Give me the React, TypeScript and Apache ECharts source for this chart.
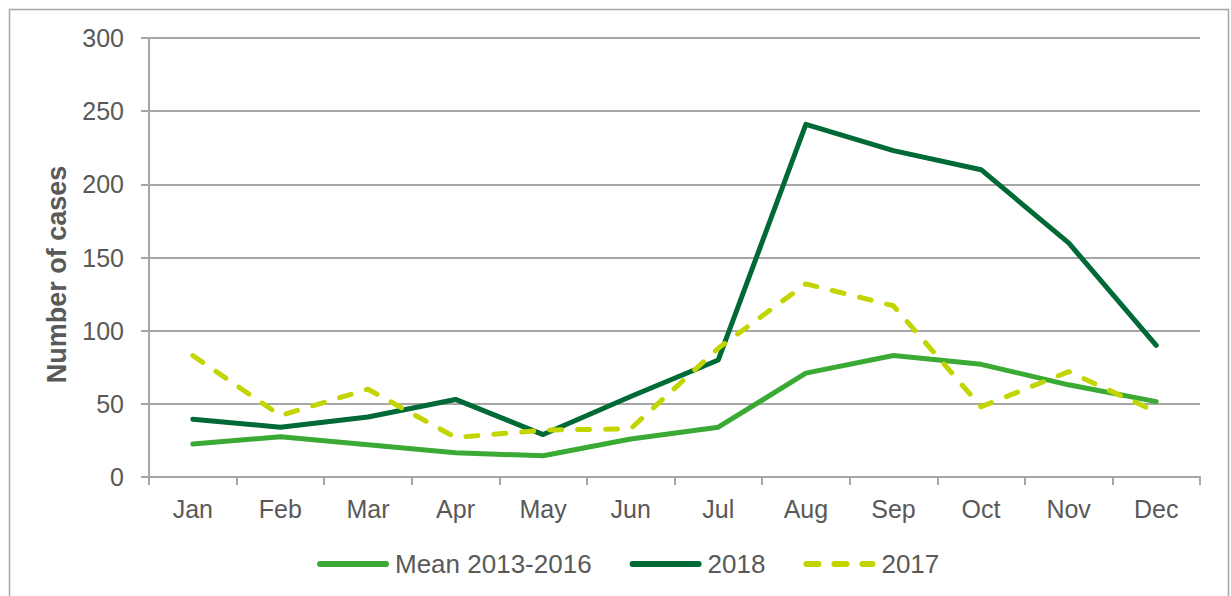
import React, { useEffect, useRef } from "react";
import * as echarts from "echarts";

const months = ["Jan", "Feb", "Mar", "Apr", "May", "Jun", "Jul", "Aug", "Sep", "Oct", "Nov", "Dec"];
const mean20132016 = [22.5, 27.5, 22, 16.5, 14.5, 26, 34, 71, 83, 77, 63, 51.5];
const y2018 = [39.5, 34, 41, 53, 29, 55, 80, 241, 223, 210, 160, 90];
const y2017 = [83, 42, 60, 27, 32, 33, 88, 132, 117, 48, 72, 44.5];
const yTicks = { min: 0, max: 300, interval: 50 };

const textColor = "#595959";
const gridColor = "#a6a6a6";
const font = "'Liberation Sans', Arial, sans-serif";

export default function App() {
  const ref = useRef<HTMLDivElement>(null);
  useEffect(() => {
    if (!ref.current) return;
    const chart = echarts.init(ref.current, null, { renderer: "svg" });
    chart.setOption({
      animation: false,
      textStyle: { fontFamily: font },
      graphic: [
        {
          type: "rect",
          shape: { x: 9.5, y: 9.5, width: 1219, height: 600 },
          style: { fill: "none", stroke: "#a6a6a6", lineWidth: 1.5 },
          silent: true,
        },
      ],
      grid: { left: 149, right: 31, top: 38, bottom: 119, containLabel: false },
      legend: {
        bottom: 14,
        left: 312,
        itemWidth: 66,
        itemHeight: 12,
        itemGap: 38,
        itemStyle: { opacity: 0 },
        lineStyle: { width: 6, cap: "round" },
        textStyle: { color: textColor, fontSize: 26, fontFamily: font, padding: [0, 0, 0, 4] },
        data: ["Mean 2013-2016", "2018", "2017"],
      },
      xAxis: {
        type: "category",
        data: months,
        boundaryGap: true,
        axisLine: { lineStyle: { color: gridColor, width: 2 } },
        axisTick: { show: true, length: 8, lineStyle: { color: gridColor, width: 2 } },
        axisLabel: { color: textColor, fontSize: 25, margin: 19, fontFamily: font },
      },
      yAxis: {
        type: "value",
        min: yTicks.min,
        max: yTicks.max,
        interval: yTicks.interval,
        name: "Number of cases",
        nameLocation: "middle",
        nameGap: 79,
        nameRotate: 90,
        nameTextStyle: {
          color: textColor,
          fontSize: 27,
          fontWeight: "bold",
          fontFamily: font,
          padding: [0, 34, 0, 0],
        },
        axisLine: { show: true, lineStyle: { color: gridColor, width: 2 } },
        axisTick: { show: true, length: 8, lineStyle: { color: gridColor, width: 2 } },
        axisLabel: { color: textColor, fontSize: 25, margin: 25, fontFamily: font },
        splitLine: { show: true, lineStyle: { color: gridColor, width: 2 } },
      },
      series: [
        {
          name: "Mean 2013-2016",
          type: "line",
          data: mean20132016,
          symbol: "none",
          itemStyle: { color: "#3aaa35" },
          lineStyle: { color: "#3aaa35", width: 5, cap: "round", join: "round" },
          z: 2,
        },
        {
          name: "2018",
          type: "line",
          data: y2018,
          symbol: "none",
          itemStyle: { color: "#006a36" },
          lineStyle: { color: "#006a36", width: 5, cap: "round", join: "round" },
          z: 3,
        },
        {
          name: "2017",
          type: "line",
          data: y2017,
          symbol: "none",
          itemStyle: { color: "#c2d500" },
          lineStyle: { color: "#c2d500", width: 5, type: [12, 16], cap: "round", join: "round" },
          z: 4,
        },
      ],
    });
    return () => chart.dispose();
  }, []);
  return (
    <div
      ref={ref}
      style={{ position: "fixed", left: 0, top: 0, width: 1231, height: 596, background: "#fff" }}
    />
  );
}
